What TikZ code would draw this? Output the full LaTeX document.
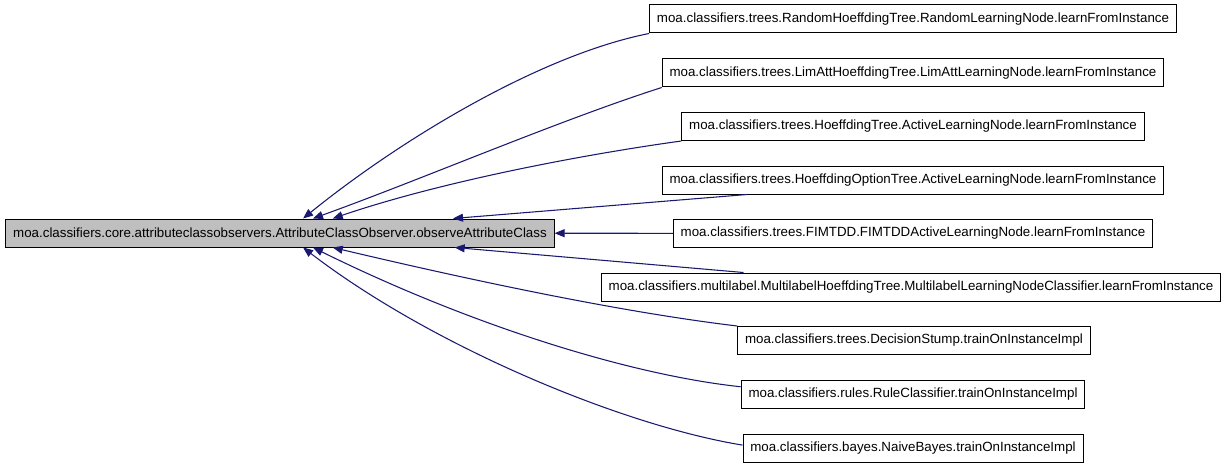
\documentclass[tikz,border=0pt]{standalone}
\usepackage{fontspec}
\setmainfont{Liberation Sans}
\definecolor{dxnavy}{RGB}{25,25,112}
\definecolor{dxgray}{RGB}{191,191,191}
\usetikzlibrary{arrows.meta,calc}

\begin{document}
\begin{tikzpicture}[x=0.75pt, y=-0.75pt,
  fnbox/.style={draw=black, fill=white, line width=0.75pt, minimum height=21pt, inner xsep=5.5pt, inner ysep=0pt, font=\fontsize{10pt}{12pt}\selectfont},
  rootbox/.style={fnbox, fill=dxgray},
  calledge/.style={draw=dxnavy, line width=0.8pt, -{Triangle[length=7.5pt, width=6pt]}}]
  \useasboundingbox (0,0) rectangle (1227,467);

  % observed method
  \node[rootbox] (obs) at (280,233) {moa.classifiers.core.attributeclassobservers.AttributeClassObserver.observeAttributeClass};

  % callers
  \node[fnbox] (k1) at (913,19) {moa.classifiers.trees.RandomHoeffdingTree.RandomLearningNode.learnFromInstance};
  \node[fnbox] (k2) at (913,73) {moa.classifiers.trees.LimAttHoeffdingTree.LimAttLearningNode.learnFromInstance};
  \node[fnbox] (k3) at (913,126.5) {moa.classifiers.trees.HoeffdingTree.ActiveLearningNode.learnFromInstance};
  \node[fnbox] (k4) at (913,180) {moa.classifiers.trees.HoeffdingOptionTree.ActiveLearningNode.learnFromInstance};
  \node[fnbox] (k5) at (913,233.5) {moa.classifiers.trees.FIMTDD.FIMTDDActiveLearningNode.learnFromInstance};
  \node[fnbox] (k6) at (911,287) {moa.classifiers.multilabel.MultilabelHoeffdingTree.MultilabelLearningNodeClassifier.learnFromInstance};
  \node[fnbox] (k7) at (914,340.5) {moa.classifiers.trees.DecisionStump.trainOnInstanceImpl};
  \node[fnbox] (k8) at (913,394) {moa.classifiers.rules.RuleClassifier.trainOnInstanceImpl};
  \node[fnbox] (k9) at (913,448) {moa.classifiers.bayes.NaiveBayes.trainOnInstanceImpl};

  % call edges
  \draw[calledge] (k1.south west) .. controls (540,55) and (400,140) .. ($(obs.north west)!0.542!(obs.north east)$);
  \draw[calledge] (k2.south west) .. controls (560,120) and (420,180) .. ($(obs.north west)!0.56!(obs.north east)$);
  \draw[calledge] (k3.south west) .. controls (580,155) and (440,182) .. ($(obs.north west)!0.596!(obs.north east)$);
  \draw[calledge] ($(k4.south west)!0.17!(k4.south east)$) -- ($(obs.north west)!0.815!(obs.north east)$);
  \draw[calledge] (k5) -- (obs);
  \draw[calledge] ($(k6.north west)!0.23!(k6.north east)$) -- ($(obs.south west)!0.818!(obs.south east)$);
  \draw[calledge] (k7.north west) .. controls (620,312) and (470,280) .. ($(obs.south west)!0.596!(obs.south east)$);
  \draw[calledge] ($(k8.north west)!0.25!(k8.south west)$) .. controls (630,375) and (470,325) .. ($(obs.south west)!0.56!(obs.south east)$);
  \draw[calledge] ($(k9.north west)!0.4!(k9.south west)$) .. controls (620,425) and (430,345) .. ($(obs.south west)!0.542!(obs.south east)$);
\end{tikzpicture}
\end{document}
